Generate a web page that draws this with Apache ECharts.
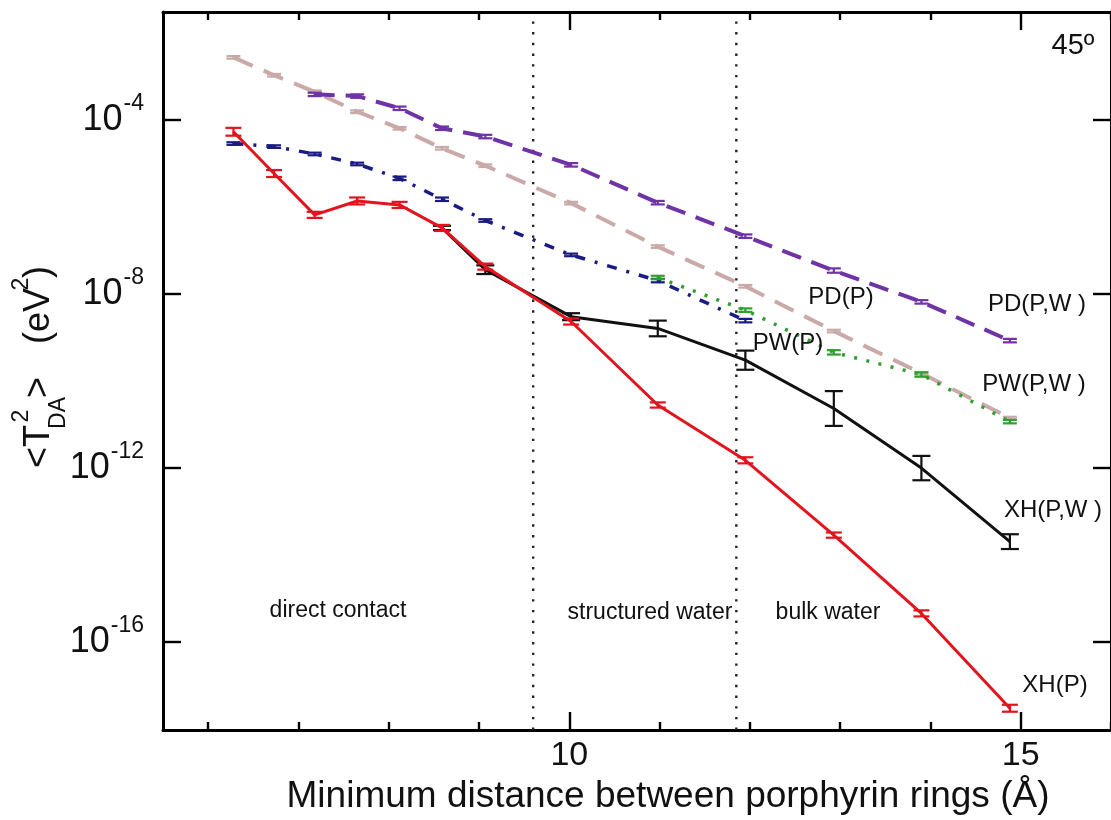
<!DOCTYPE html>
<html>
<head>
<meta charset="utf-8">
<script src="https://cdn.jsdelivr.net/npm/echarts@6/dist/echarts.min.js"></script>
<style>
html,body{margin:0;padding:0;background:#fff;overflow:hidden}
#c{width:1111px;height:820px}
</style>
</head>
<body>
<div id="c"></div>
<script>
// ---------- data ----------
// XH(P)
const distXHP = [6.28, 6.73, 7.18, 7.65, 8.12, 8.59, 9.07, 10.02, 10.98, 11.95, 12.93, 13.90, 14.88];
const xhP     = [5.37e-5, 5.89e-6, 6.61e-7, 1.38e-6, 1.12e-6, 3.31e-7, 4.27e-8, 2.34e-9, 2.82e-11, 1.51e-12, 2.88e-14, 4.57e-16, 3.02e-18];
const xhPErr  = [0.09, 0.08, 0.07, 0.08, 0.07, 0.07, 0.07, 0.07, 0.06, 0.07, 0.06, 0.07, 0.08]; // decades
// XH(P,W)
const distXHPW = [8.59, 9.07, 10.02, 10.98, 11.95, 12.93, 13.90, 14.88];
const xhPW     = [3.31e-7, 3.63e-8, 3.02e-9, 1.62e-9, 3.02e-10, 2.34e-11, 1.0e-12, 2.04e-14];
const xhPWErr  = [0.05, 0.10, 0.08, 0.18, 0.22, 0.40, 0.28, 0.17];
// PD(P,W)
const distPDPW = [7.18, 7.65, 8.12, 8.59, 9.07, 10.02, 10.98, 11.95, 12.93, 13.90, 14.88];
const pdPW     = [3.89e-4, 3.55e-4, 1.86e-4, 6.46e-5, 4.17e-5, 9.33e-6, 1.26e-6, 2.14e-7, 3.47e-8, 6.61e-9, 8.51e-10];
const pdPWErr  = [0.04, 0.04, 0.04, 0.04, 0.04, 0.04, 0.04, 0.04, 0.05, 0.04, 0.04];
// PD(P)
const distPDP = [6.28, 6.73, 7.18, 7.65, 8.12, 8.59, 9.07, 10.02, 10.98, 11.95, 12.93, 13.90, 14.88];
const pdP     = [2.75e-3, 1.07e-3, 4.47e-4, 1.55e-4, 6.46e-5, 2.24e-5, 8.91e-6, 1.23e-6, 1.23e-7, 1.51e-8, 1.41e-9, 1.51e-10, 1.41e-11];
const pdPErr  = [0.03, 0.03, 0.03, 0.03, 0.03, 0.03, 0.03, 0.03, 0.03, 0.03, 0.03, 0.03, 0.03];
// PW(P)
const distPWP = [6.28, 6.73, 7.18, 7.65, 8.12, 8.59, 9.07, 10.02, 10.98, 11.95];
const pwP     = [2.88e-5, 2.45e-5, 1.66e-5, 9.77e-6, 4.57e-6, 1.51e-6, 4.90e-7, 7.94e-8, 2.04e-8, 2.45e-9];
const pwPErr  = [0.03, 0.03, 0.03, 0.03, 0.04, 0.04, 0.03, 0.03, 0.04, 0.04];
// PW(P,W)
const distPWPW = [10.98, 11.95, 12.93, 13.90, 14.88];
const pwPW     = [2.40e-8, 4.27e-9, 4.57e-10, 1.41e-10, 1.17e-11];
const pwPWErr  = [0.04, 0.04, 0.05, 0.05, 0.04];

// region boundaries (dotted lines) and ticks
const regionBounds = [9.6, 11.85];
const xMinorTicks = [6, 7, 8, 9, 11, 12, 13, 14, 16];
const xMajorTicks = [10, 15];
const yTickExps   = [-16, -12, -8, -4];

// ---------- layout / style ----------
const FONT = "'Liberation Sans', Arial, Helvetica, sans-serif";
const X_MIN = 5.5, X_MAX = 16, Y_MIN = -18.02, Y_MAX = -1.517;
const C = {
  red: '#e2141d', black: '#111111', purple: '#7033a6',
  tan: '#c9aaa8', navy: '#1b1b86', green: '#2f9f2f'
};

const lg = v => Math.log10(v);

function lineSeries(xs, vals, color, width, type, z) {
  return {
    type: 'line', silent: true, symbol: 'none', showSymbol: false, z: z,
    data: xs.map((x, i) => [x, lg(vals[i])]),
    lineStyle: { color: color, width: width, type: type, cap: 'butt', join: 'round' }
  };
}
function errSeries(xs, vals, errs, color, hw, z) {
  return {
    type: 'custom', silent: true, z: z,
    data: xs.map((x, i) => [x, lg(vals[i]), errs[i]]),
    encode: { x: 0, y: 1 },
    renderItem: function (params, api) {
      const x = api.value(0), y = api.value(1), e = api.value(2);
      const c = api.coord([x, y]);
      const t = api.coord([x, y + e]);
      const b = api.coord([x, y - e]);
      const st = { stroke: color, lineWidth: 2.2 };
      return {
        type: 'group', children: [
          { type: 'line', shape: { x1: c[0], y1: t[1], x2: c[0], y2: b[1] }, style: st },
          { type: 'line', shape: { x1: c[0] - hw, y1: t[1], x2: c[0] + hw, y2: t[1] }, style: st },
          { type: 'line', shape: { x1: c[0] - hw, y1: b[1], x2: c[0] + hw, y2: b[1] }, style: st }
        ]
      };
    }
  };
}
function vline(x, z) {
  return {
    type: 'line', silent: true, symbol: 'none', z: z,
    data: [[x, Y_MIN], [x, -1.70]],
    lineStyle: { color: '#222', width: 2.4, type: [2.4, 8.3], cap: 'butt' }
  };
}

const axisLine = { show: true, onZero: false, lineStyle: { color: '#000', width: 3 } };
const tickStyle = { color: '#000', width: 2.4 };
function xAx(pos, ticks, len, showLine, labels) {
  return {
    type: 'value', position: pos, min: X_MIN, max: X_MAX,
    axisLine: showLine ? axisLine : { show: false, onZero: false },
    axisTick: { show: true, inside: true, length: len, customValues: ticks, lineStyle: tickStyle },
    axisLabel: labels ? {
      show: true, customValues: xMajorTicks, fontSize: 34, fontFamily: FONT, color: '#111', margin: 9
    } : { show: false },
    splitLine: { show: false }
  };
}
function yAx(pos, labels) {
  return {
    type: 'value', position: pos, min: Y_MIN, max: Y_MAX,
    axisLine: axisLine,
    axisTick: { show: true, inside: true, length: 18, customValues: yTickExps, lineStyle: tickStyle },
    axisLabel: labels ? {
      show: true, customValues: yTickExps, margin: 19,
      formatter: v => '{b|10}{s|' + Math.round(v) + '}',
      rich: {
        b: { fontSize: 36, fontFamily: FONT, color: '#111', lineHeight: 36 },
        s: { fontSize: 23, fontFamily: FONT, color: '#111', lineHeight: 23, padding: [0, 0, 32, 1] }
      }
    } : { show: false },
    splitLine: { show: false }
  };
}

function txt(text, x, y, size, extra) {
  return Object.assign({
    type: 'text', x: x, y: y, silent: true, z: 50,
    style: { text: text, fontSize: size, fontFamily: FONT, fill: '#111', align: 'center', verticalAlign: 'middle' }
  }, extra || {});
}

const chart = echarts.init(document.getElementById('c'), null, { renderer: 'canvas' });
chart.setOption({
  animation: false,
  backgroundColor: '#ffffff',
  grid: { left: 163, top: 12, width: 954, height: 718, containLabel: false },
  xAxis: [
    xAx('bottom', xMinorTicks, 8, true, true),
    xAx('bottom', xMajorTicks, 18, false, false),
    xAx('top', xMinorTicks, 8, true, false),
    xAx('top', xMajorTicks, 18, false, false)
  ],
  yAxis: [ yAx('left', true), yAx('right', false) ],
  series: [
    vline(regionBounds[0], 1),
    vline(regionBounds[1], 1),
    lineSeries(distPDP, pdP, C.tan, 4, [21, 12], 2),
    errSeries(distPDP, pdP, pdPErr, C.tan, 7, 2),
    lineSeries(distPDPW, pdPW, C.purple, 4, [20, 11], 3),
    errSeries(distPDPW, pdPW, pdPWErr, C.purple, 7, 3),
    lineSeries(distPWP, pwP, C.navy, 3.5, [10, 10, 3, 10], 4),
    errSeries(distPWP, pwP, pwPErr, C.navy, 7, 4),
    lineSeries(distPWPW, pwPW, C.green, 3.5, [3, 9.5], 5),
    errSeries(distPWPW, pwPW, pwPWErr, C.green, 7, 5),
    lineSeries(distXHPW, xhPW, C.black, 3, 'solid', 6),
    errSeries(distXHPW, xhPW, xhPWErr, C.black, 9, 6),
    lineSeries(distXHP, xhP, C.red, 3, 'solid', 7),
    errSeries(distXHP, xhP, xhPErr, C.red, 8, 7)
  ],
  graphic: [
    // y-axis title: <T^2_DA>  (eV^2)
    {
      type: 'group', x: 39, y: 473, rotation: Math.PI / 2, silent: true,
      children: [
        txt('<T', 26.5, 0, 36),
        txt('2', 57, -17, 23),
        txt('DA', 60, 19.5, 23),
        txt('>', 85.5, 0, 36),
        txt('(eV', 157, 0, 36),
        txt('2', 189, -17.5, 23),
        txt(')', 201, 0, 36)
      ]
    },
    txt('Minimum distance between porphyrin rings (Å)', 668, 797, 37),
    txt('45º', 1073, 46, 29),
    txt('direct contact', 338, 611, 23),
    txt('structured water', 650, 613, 23),
    txt('bulk water', 828, 613, 23),
    txt('PD(P)', 841, 297, 24),
    txt('PD(P,W )', 1037, 304, 24),
    txt('PW(P)', 788, 343, 24),
    txt('PW(P,W )', 1034, 384, 24),
    txt('XH(P,W )', 1053, 510, 24),
    txt('XH(P)', 1055, 685, 24)
  ]
});
</script>
</body>
</html>
